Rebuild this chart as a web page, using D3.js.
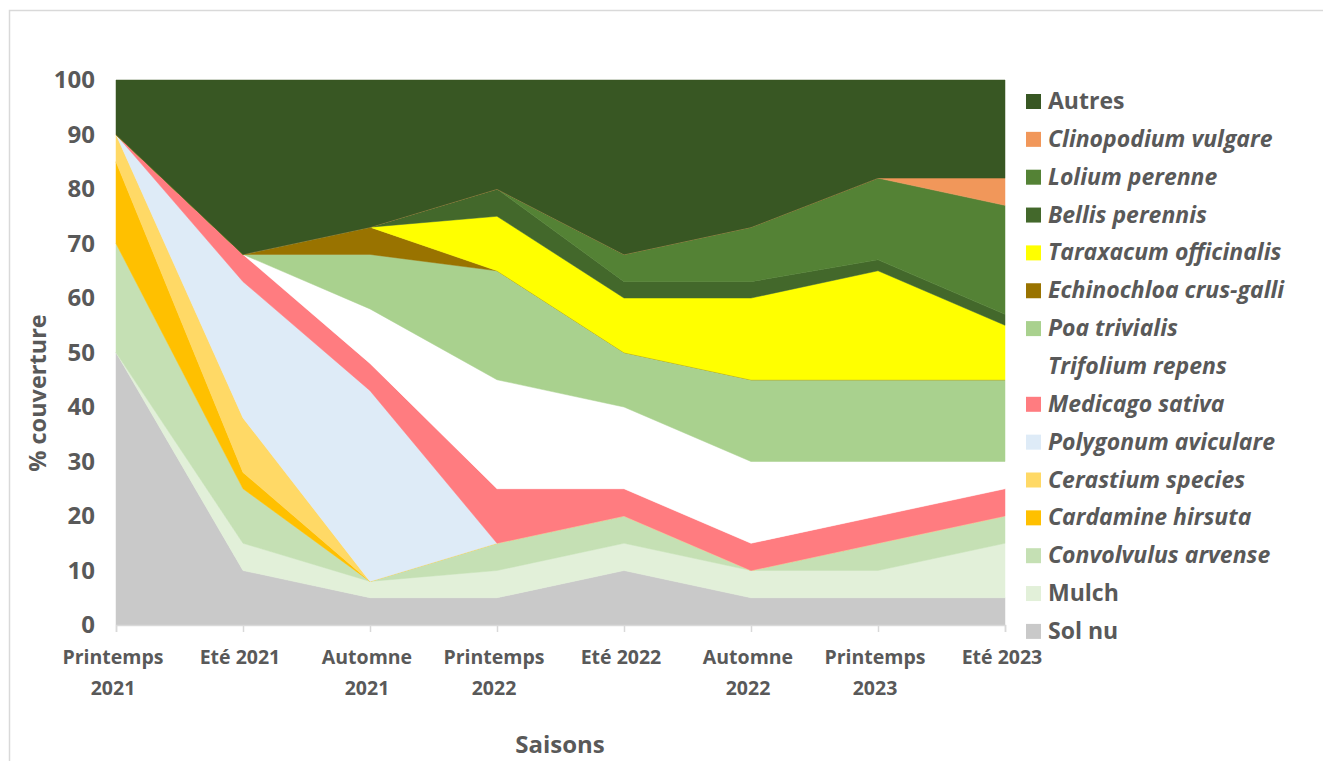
<!DOCTYPE html>
<html>
<head>
<meta charset="utf-8">
<script src="https://cdn.jsdelivr.net/npm/d3@7"></script>
<style>
  body { margin: 0; background: #fff; }
  text { font-family: "Open Sans", sans-serif; font-weight: bold; fill: #595959; }
</style>
</head>
<body>
<div class="chart"></div>
<script>
// seasons on the x axis (label lines)
var seasons = ["Printemps 2021", "Eté 2021", "Automne 2021", "Printemps 2022",
               "Eté 2022", "Automne 2022", "Printemps 2023", "Eté 2023"];
var seasonLines = [["Printemps", "2021"], ["Eté 2021"], ["Automne", "2021"], ["Printemps", "2022"],
                   ["Eté 2022"], ["Automne", "2022"], ["Printemps", "2023"], ["Eté 2023"]];

// % cover per species, one value per season
var solNu        = [50, 10, 5, 5, 10, 5, 5, 5];
var mulch        = [0, 5, 3, 5, 5, 5, 5, 10];
var convolvulus  = [20, 10, 0, 5, 5, 0, 5, 5];
var cardamine    = [15, 3, 0, 0, 0, 0, 0, 0];
var cerastium    = [5, 10, 0, 0, 0, 0, 0, 0];
var polygonum    = [0, 25, 35, 0, 0, 0, 0, 0];
var medicago     = [0, 5, 5, 10, 5, 5, 5, 5];
var trifolium    = [0, 0, 10, 20, 15, 15, 10, 5];
var poa          = [0, 0, 10, 20, 10, 15, 15, 15];
var echinochloa  = [0, 0, 5, 0, 0, 0, 0, 0];
var taraxacum    = [0, 0, 0, 10, 10, 15, 20, 10];
var bellis       = [0, 0, 0, 5, 3, 3, 2, 2];
var lolium       = [0, 0, 0, 0, 5, 10, 15, 20];
var clinopodium  = [0, 0, 0, 0, 0, 0, 0, 5];
var autres       = [10, 32, 27, 20, 32, 27, 18, 18];

var yTicks = [0, 10, 20, 30, 40, 50, 60, 70, 80, 90, 100];

// stacking order, bottom to top
var series = [
  {key: "Sol nu", values: solNu, color: "#c9c9c9", italic: false},
  {key: "Mulch", values: mulch, color: "#e2f0d9", italic: false},
  {key: "Convolvulus arvense", values: convolvulus, color: "#c5e0b4", italic: true},
  {key: "Cardamine hirsuta", values: cardamine, color: "#ffc000", italic: true},
  {key: "Cerastium species", values: cerastium, color: "#ffd966", italic: true},
  {key: "Polygonum aviculare", values: polygonum, color: "#deebf7", italic: true},
  {key: "Medicago sativa", values: medicago, color: "#ff7c80", italic: true},
  {key: "Trifolium repens", values: trifolium, color: "#ffffff", italic: true},
  {key: "Poa trivialis", values: poa, color: "#a9d18e", italic: true},
  {key: "Echinochloa crus-galli", values: echinochloa, color: "#997300", italic: true},
  {key: "Taraxacum officinalis", values: taraxacum, color: "#ffff00", italic: true},
  {key: "Bellis perennis", values: bellis, color: "#43682b", italic: true},
  {key: "Lolium perenne", values: lolium, color: "#548235", italic: true},
  {key: "Clinopodium vulgare", values: clinopodium, color: "#f1975a", italic: true},
  {key: "Autres", values: autres, color: "#385723", italic: false}
];

var svgWidth = 1323;
var svgHeight = 761;
var margin = {top: 80, right: 318, bottom: 136, left: 116};
var width = svgWidth - margin.left - margin.right;
var height = svgHeight - margin.top - margin.bottom;

// build the table d3.stack wants
var table = seasons.map(function(s, i) {
  var row = {season: s};
  series.forEach(function(d) { row[d.key] = d.values[i]; });
  return row;
});

var svg = d3.select(".chart")
  .append("svg")
  .attr("width", svgWidth)
  .attr("height", svgHeight);

// chart frame
svg.append("rect")
  .attr("x", 9.5).attr("y", 10.5)
  .attr("width", 1400).attr("height", 800)
  .attr("fill", "none")
  .attr("stroke", "#d9d9d9")
  .attr("stroke-width", 1.5);

var chartGroup = svg.append("g")
  .attr("transform", `translate(${margin.left}, ${margin.top})`);

var xScale = d3.scalePoint().domain(seasons).range([0, width]);
var yScale = d3.scaleLinear().domain([0, 100]).range([height, 0]);

var stacked = d3.stack().keys(series.map(d => d.key))(table);

var area = d3.area()
  .x(d => xScale(d.data.season))
  .y0(d => yScale(d[0]))
  .y1(d => yScale(d[1]));

chartGroup.selectAll(".layer")
  .data(stacked)
  .enter()
  .append("path")
  .attr("class", "layer")
  .attr("d", area)
  .attr("fill", (d, i) => series[i].color)
  .attr("stroke", (d, i) => series[i].color)
  .attr("stroke-width", 0.5);

// x axis
var xAxis = chartGroup.append("g")
  .attr("transform", `translate(0, ${height})`)
  .call(d3.axisBottom(xScale).tickSize(7).tickFormat(""));
xAxis.select(".domain").attr("stroke", "#d9d9d9").attr("stroke-width", 1.5);
xAxis.selectAll(".tick line").attr("stroke", "#d9d9d9").attr("stroke-width", 1.5);

seasons.forEach(function(s, i) {
  var t = chartGroup.append("text")
    .attr("x", xScale(s) - 3)
    .attr("y", height + 39)
    .attr("text-anchor", "middle")
    .style("font-size", "19.5px");
  seasonLines[i].forEach(function(line, j) {
    t.append("tspan").attr("x", xScale(s) - 3).attr("dy", j === 0 ? 0 : 31).text(line);
  });
});

// y axis labels, no line
var yAxis = chartGroup.append("g")
  .call(d3.axisLeft(yScale).tickValues(yTicks).tickSize(0).tickPadding(21));
yAxis.select(".domain").remove();
yAxis.selectAll("text")
  .style("font-size", "24px")
  .style("font-family", "'Open Sans', sans-serif")
  .style("font-weight", "bold")
  .attr("fill", "#595959");

// axis titles
svg.append("text")
  .attr("transform", "rotate(-90)")
  .attr("x", -393)
  .attr("y", 46)
  .attr("text-anchor", "middle")
  .style("font-size", "23.5px")
  .text("% couverture");

svg.append("text")
  .attr("x", 560)
  .attr("y", 753)
  .attr("text-anchor", "middle")
  .style("font-size", "24px")
  .text("Saisons");

// legend, top to bottom reversed
var legend = svg.append("g").attr("transform", "translate(1026, 101)");
var legendItems = series.slice().reverse();
legendItems.forEach(function(d, i) {
  var g = legend.append("g").attr("transform", `translate(0, ${i * 37.85})`);
  g.append("rect")
    .attr("x", 0).attr("y", -7)
    .attr("width", 15).attr("height", 15)
    .attr("fill", d.color);
  g.append("text")
    .attr("x", 22)
    .attr("y", 8)
    .style("font-size", "23px")
    .style("font-style", d.italic ? "italic" : "normal")
    .text(d.key);
});
</script>
</body>
</html>
